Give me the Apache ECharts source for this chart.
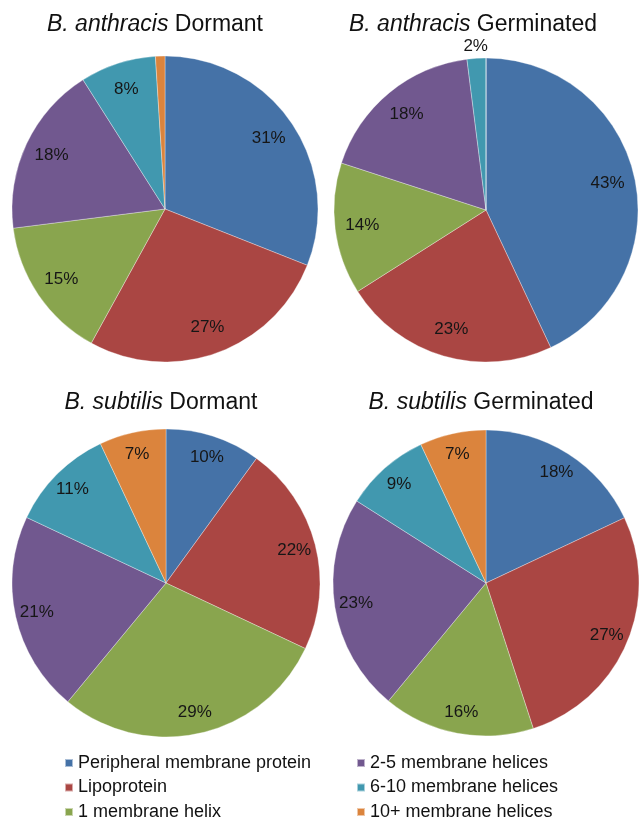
<!DOCTYPE html>
<html>
<head>
<meta charset="utf-8">
<script src="https://cdn.jsdelivr.net/npm/echarts@6/dist/echarts.min.js"></script>
<style>
  html, body { margin: 0; padding: 0; background: #fff; }
  #chart { width: 639px; height: 825px; }
</style>
</head>
<body>
<div id="chart"></div>
<script>
// Membrane protein classes (share of proteins, %)
const categories = [
  'Peripheral membrane protein',
  'Lipoprotein',
  '1 membrane helix',
  '2-5 membrane helices',
  '6-10 membrane helices',
  '10+ membrane helices'
];
const anthracisDormant    = [31, 27, 15, 18, 8, 1];
const anthracisGerminated = [43, 23, 14, 18, 2, 0];
const subtilisDormant     = [10, 22, 29, 21, 11, 7];
const subtilisGerminated  = [18, 27, 16, 23, 9, 7];

const species = ['B. anthracis', 'B. anthracis', 'B. subtilis', 'B. subtilis'];
const states  = ['Dormant', 'Germinated', 'Dormant', 'Germinated'];

const colors = ['#4572A7', '#AA4643', '#89A54E', '#71588F', '#4198AF', '#DB843D'];

// Layout of each pie: center and radius in pixels, inner edge of label ring, title anchor
const panels = [
  { cx: 165, cy: 209, r: 153, labelInner: 0.60, titleX: 155, titleTop: 13 },
  { cx: 486, cy: 210, r: 152, labelInner: 0.60, titleX: 473, titleTop: 13 },
  { cx: 166, cy: 583, r: 154, labelInner: 0.68, titleX: 161, titleTop: 391 },
  { cx: 486, cy: 583, r: 153, labelInner: 0.68, titleX: 481, titleTop: 391 }
];
const values = [anthracisDormant, anthracisGerminated, subtilisDormant, subtilisGerminated];

const FONT = 'Liberation Sans, Arial, sans-serif';
const labelText = { fontSize: 17, color: '#161616', fontFamily: FONT };

const toData = arr => arr.map((v, i) => ({ name: categories[i], value: v }));

const series = [];
// Coloured pies
panels.forEach((p, k) => {
  series.push({
    type: 'pie',
    center: [p.cx, p.cy],
    radius: [0, p.r],
    startAngle: 90,
    clockwise: true,
    animation: false,
    silent: true,
    label: { show: false },
    labelLine: { show: false },
    itemStyle: { borderColor: 'rgba(255,255,255,0.55)', borderWidth: 0.6 },
    data: toData(values[k]).map((d, i) => ({ ...d, itemStyle: { color: colors[i] } }))
  });
});
// Percentage labels placed inside the slices (ring so labels sit near the rim)
panels.forEach((p, k) => {
  series.push({
    type: 'pie',
    center: [p.cx, p.cy],
    radius: [p.r * p.labelInner, p.r],
    startAngle: 90,
    clockwise: true,
    animation: false,
    silent: true,
    itemStyle: { color: 'rgba(0,0,0,0)' },
    labelLine: { show: false },
    label: {
      show: true,
      position: 'inside',
      ...labelText,
      formatter: prm => (prm.value >= 5 ? prm.value + '%' : '')
    },
    data: toData(values[k])
  });
});
// Labels for thin slices, just outside the rim
panels.forEach((p, k) => {
  series.push({
    type: 'pie',
    center: [p.cx, p.cy],
    radius: [p.r + 1, p.r + 18],
    startAngle: 90,
    clockwise: true,
    animation: false,
    silent: true,
    itemStyle: { color: 'rgba(0,0,0,0)' },
    labelLine: { show: false },
    label: {
      show: true,
      position: 'inside',
      ...labelText,
      formatter: prm => (prm.value >= 2 && prm.value < 5 ? prm.value + '%' : '')
    },
    data: toData(values[k])
  });
});

const titles = panels.map((p, k) => ({
  text: '{i|' + species[k] + '} ' + states[k],
  left: p.titleX,
  top: p.titleTop,
  textAlign: 'center',
  padding: 0,
  textStyle: {
    fontSize: 23,
    fontWeight: 'normal',
    color: '#111',
    fontFamily: FONT,
    rich: { i: { fontStyle: 'italic', fontSize: 23, color: '#111', fontFamily: FONT } }
  }
}));

const legendBase = {
  orient: 'vertical',
  top: 753,
  icon: 'rect',
  itemWidth: 8,
  itemHeight: 8,
  itemGap: 4.5,
  itemTextGap: 2,
  selectedMode: false,
  padding: 0,
  textStyle: { fontSize: 18, lineHeight: 20, color: '#111', fontFamily: FONT }
};

const option = {
  backgroundColor: '#fff',
  title: titles,
  legend: [
    { ...legendBase, left: 64, data: categories.slice(0, 3) },
    { ...legendBase, left: 356, data: categories.slice(3) }
  ],
  series
};

const chart = echarts.init(document.getElementById('chart'), null, { renderer: 'canvas' });
chart.setOption(option);
</script>
</body>
</html>
